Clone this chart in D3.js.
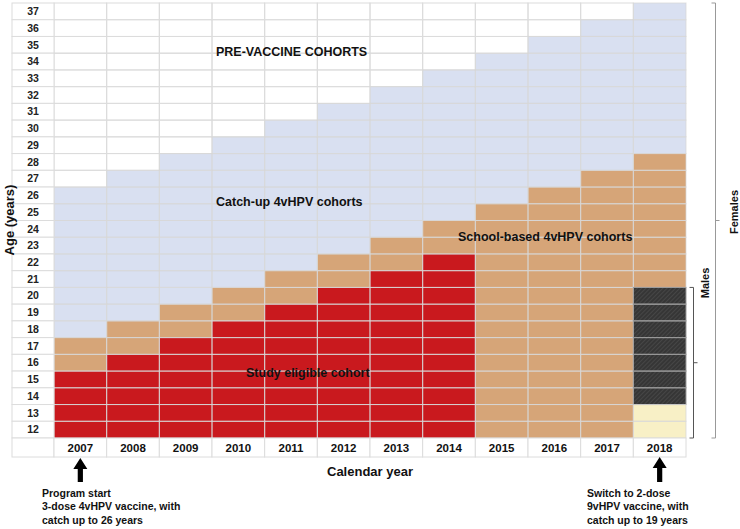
<!DOCTYPE html>
<html><head><meta charset="utf-8">
<script src="https://cdn.jsdelivr.net/npm/d3@7"></script>
<style>body{margin:0;background:#fff}svg{display:block;font-family:"Liberation Sans",Arial,sans-serif}</style>
</head><body>
<svg id="c" width="740" height="529"></svg>
<script>
const years = [2007,2008,2009,2010,2011,2012,2013,2014,2015,2016,2017,2018];
const ages = [37,36,35,34,33,32,31,30,29,28,27,26,25,24,23,22,21,20,19,18,17,16,15,14,13,12];
// highest age in each cohort band per calendar year
const catchUpTop = [26,27,28,29,30,31,32,33,34,35,36,37];
const schoolTop  = [17,18,19,20,21,22,23,24,25,26,27,28];
const studyTop   = [15,16,17,18,19,20,21,22,0,0,0,0];
const maleHatchTop = [0,0,0,0,0,0,0,0,0,0,0,20];
const maleHatchBottom = [0,0,0,0,0,0,0,0,0,0,0,14];
const nineVTop   = [0,0,0,0,0,0,0,0,0,0,0,13];
const colors = {pre:"#ffffff", catchup:"#d9e0f1", school:"#d6a578", study:"#c9191e", nine:"#f8f0c6"};

const svg = d3.select("#c");
const defs = svg.append("defs");
const pat = defs.append("pattern").attr("id","hatch").attr("patternUnits","userSpaceOnUse")
  .attr("width",3).attr("height",3).attr("patternTransform","rotate(45)");
pat.append("rect").attr("width",3).attr("height",3).attr("fill","#363636");
pat.append("line").attr("x1",0).attr("y1",0).attr("x2",0).attr("y2",3).attr("stroke","#555").attr("stroke-width",1);

const x = d3.scaleBand().domain(years).range([54,686]);
const y = d3.scaleBand().domain(ages).range([3,438]);
const labelX0 = 12, yearY1 = 457;

function cat(i, a){
  if (nineVTop[i] && a <= nineVTop[i]) return "nine";
  if (maleHatchTop[i] && a <= maleHatchTop[i] && a >= maleHatchBottom[i]) return "hatch";
  if (a <= studyTop[i]) return "study";
  if (a <= schoolTop[i]) return "school";
  if (a <= catchUpTop[i]) return "catchup";
  return "pre";
}
const cells = [];
years.forEach((yr,i)=>ages.forEach(a=>cells.push({yr,a,c:cat(i,a)})));

svg.append("g").selectAll("rect").data(cells).join("rect")
  .attr("x",d=>x(d.yr)).attr("y",d=>y(d.a))
  .attr("width",x.bandwidth()).attr("height",y.bandwidth())
  .attr("fill",d=>d.c==="hatch"?"url(#hatch)":colors[d.c]);
svg.append("g").selectAll("rect").data(cells).join("rect")
  .attr("x",d=>x(d.yr)).attr("y",d=>y(d.a))
  .attr("width",x.bandwidth()).attr("height",y.bandwidth())
  .attr("fill","none")
  .attr("stroke",d=>d.c==="pre"?"#dcdcdc":(d.c==="hatch"?"#999":"rgb(215,215,215)"))
  .attr("stroke-opacity",d=>d.c==="pre"||d.c==="hatch"?1:0.75)
  .attr("stroke-width",1);

// age label column
const lab = svg.append("g");
lab.selectAll("rect").data(ages).join("rect")
  .attr("x",labelX0).attr("y",d=>y(d)).attr("width",54-labelX0).attr("height",y.bandwidth())
  .attr("fill","#fff").attr("stroke","#dcdcdc");
lab.selectAll("text").data(ages).join("text")
  .attr("x",(labelX0+54)/2).attr("y",d=>y(d)+y.bandwidth()/2).attr("dy","0.35em")
  .attr("text-anchor","middle").attr("font-size",10.5).attr("font-weight","bold").attr("fill","#222")
  .text(d=>d);
// year row
const yr = svg.append("g");
yr.append("rect").attr("x",labelX0).attr("y",438).attr("width",54-labelX0).attr("height",yearY1-438)
  .attr("fill","#fff").attr("stroke","#dcdcdc");
yr.selectAll("rect.y").data(years).join("rect").attr("class","y")
  .attr("x",d=>x(d)).attr("y",438).attr("width",x.bandwidth()).attr("height",yearY1-438)
  .attr("fill","#fff").attr("stroke","#dcdcdc");
yr.selectAll("text").data(years).join("text")
  .attr("x",d=>x(d)+x.bandwidth()/2).attr("y",448).attr("dy","0.35em")
  .attr("text-anchor","middle").attr("font-size",11.5).attr("font-weight","bold").attr("fill","#111")
  .text(d=>d);

// region labels
const lbl = (t,xx,yy,fs)=>svg.append("text").attr("x",xx).attr("y",yy).attr("dy","0.35em")
  .attr("font-size",fs||12.5).attr("font-weight","bold").attr("fill","#111").text(t);
lbl("PRE-VACCINE COHORTS",216,52);
lbl("Catch-up 4vHPV cohorts",216,202);
lbl("School-based 4vHPV cohorts",458,237);
lbl("Study eligible cohort",246,373);

// axis titles
svg.append("text").attr("transform","translate(9,220) rotate(-90)").attr("text-anchor","middle")
  .attr("dy","0.35em").attr("font-size",13).attr("font-weight","bold").attr("fill","#111").text("Age (years)");
svg.append("text").attr("x",370).attr("y",471).attr("text-anchor","middle").attr("dy","0.35em")
  .attr("font-size",13).attr("font-weight","bold").attr("fill","#111").text("Calendar year");

// arrows
function arrow(cx, top, bottom){
  const hw=7, hh=11, sw=2.6;
  svg.append("path").attr("fill","#000")
    .attr("d",`M${cx},${top} L${cx+hw},${top+hh} L${cx+sw},${top+hh} L${cx+sw},${bottom} L${cx-sw},${bottom} L${cx-sw},${top+hh} L${cx-hw},${top+hh} Z`);
}
arrow(x(2007)+x.bandwidth()/2, 458, 482);
arrow(x(2018)+x.bandwidth()/2, 457, 482);

const note = (lines, xx)=>lines.forEach((t,k)=>svg.append("text").attr("x",xx).attr("y",493+k*13.8)
  .attr("dy","0.35em").attr("font-size",10.5).attr("font-weight","bold").attr("fill","#111").text(t));
note(["Program start","3-dose 4vHPV vaccine, with","catch up to 26 years"],42);
note(["Switch to 2-dose","9vHPV vaccine, with","catch up to 19 years"],587);

// brackets
function bracket(bx, top, bottom, col){
  const g = svg.append("g").attr("stroke",col).attr("fill","none").attr("stroke-width",1);
  g.append("path").attr("d",`M${bx-4},${top} H${bx} V${bottom} H${bx-4}`);
  g.append("path").attr("d",`M${bx},${(top+bottom)/2} H${bx+4}`);
}
bracket(715.5, y(37), y(12)+y.bandwidth(), "#999");
bracket(693.5, y(20), y(12)+y.bandwidth(), "#555");
svg.append("text").attr("transform","translate(734,212) rotate(-90)").attr("text-anchor","middle")
  .attr("dy","0.35em").attr("font-size",11).attr("font-weight","bold").attr("fill","#111").text("Females");
svg.append("text").attr("transform","translate(705,283) rotate(-90)").attr("text-anchor","middle")
  .attr("dy","0.35em").attr("font-size",11).attr("font-weight","bold").attr("fill","#111").text("Males");
</script>
</body></html>
